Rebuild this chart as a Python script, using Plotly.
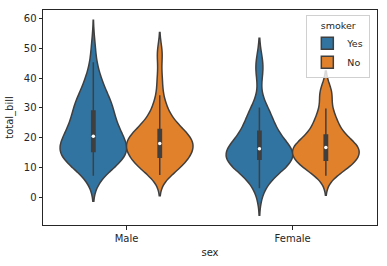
import numpy as np
import plotly.graph_objects as go

categories = ["Male", "Female"]
hues = ["Yes", "No"]

male_yes = [38.01, 11.24, 20.29, 13.81, 11.02, 18.29, 15.01, 17.92, 19.44, 32.68, 28.97, 40.17,
            27.28, 12.03, 21.01, 15.36, 20.49, 25.21, 16.00, 20.76, 31.71, 50.81, 15.81, 7.25,
            31.85, 16.82, 32.90, 17.89, 14.48, 34.63, 34.65, 23.33, 45.35, 23.17, 40.55, 30.46,
            23.10, 15.69, 28.44, 15.48, 16.58, 10.34, 13.51, 18.71, 20.53, 26.59, 38.73, 24.27,
            30.06, 25.89, 28.15, 11.59, 7.74, 12.16, 8.58, 13.42, 24.01, 15.69, 15.53, 12.60,
            32.83, 22.67]
male_no = [10.34, 21.01, 23.68, 25.29, 8.77, 26.88, 15.04, 14.78, 10.27, 15.42, 18.43, 21.58,
           16.29, 20.65, 17.92, 39.42, 19.82, 17.81, 13.37, 12.69, 21.70, 9.55, 18.35, 17.78,
           24.06, 16.31, 18.69, 31.27, 16.04, 17.46, 13.94, 9.68, 30.40, 18.29, 22.23, 32.40,
           28.55, 18.04, 12.54, 9.94, 25.56, 19.49, 48.27, 17.59, 20.08, 20.23, 12.02, 10.51,
           27.20, 22.76, 17.29, 16.66, 15.98, 13.03, 18.28, 24.71, 21.16, 22.49, 12.46, 18.24,
           14.00, 38.07, 23.95, 29.93, 11.69, 14.26, 15.95, 8.52, 22.82, 19.08, 34.30, 41.19,
           9.78, 7.51, 14.07, 13.13, 17.26, 24.55, 19.77, 48.17, 16.49, 21.50, 12.66, 13.81,
           24.52, 20.69, 7.56, 48.33, 20.45, 13.28, 11.61, 10.77, 10.07, 29.03, 17.82]
female_yes = [3.07, 26.86, 25.28, 5.75, 16.32, 11.35, 15.38, 44.30, 22.42, 14.31, 17.51, 10.59,
              10.63, 9.60, 20.90, 18.15, 19.81, 43.11, 13.00, 12.74, 13.00, 16.40, 16.47, 12.76,
              13.27, 28.17, 12.90, 30.14, 13.42, 16.27, 10.09, 22.12, 27.18]
female_no = [16.99, 24.59, 35.26, 14.83, 10.33, 16.97, 20.29, 15.77, 19.65, 15.06, 20.69, 16.93,
             10.29, 34.81, 26.41, 16.45, 17.07, 14.73, 10.07, 34.83, 22.75, 20.92, 7.25, 25.71,
             17.31, 10.65, 12.43, 24.08, 13.42, 12.48, 29.80, 14.52, 11.38, 20.27, 11.17, 12.26,
             18.26, 8.51, 10.33, 14.15, 13.16, 17.47, 27.05, 16.43, 8.35, 18.64, 11.87, 29.85,
             25.00, 13.39, 16.21, 15.98, 35.83, 18.78]

groups = {("Male", "Yes"): male_yes, ("Male", "No"): male_no,
          ("Female", "Yes"): female_yes, ("Female", "No"): female_no}

colors = {"Yes": "#3274a1", "No": "#e1812c"}
edge = "#3f3f3f"
offsets = {"Yes": -0.2, "No": 0.2}

fig = go.Figure()
med_x, med_y = [], []
for ci, cat in enumerate(categories):
    for h in hues:
        vals = np.asarray(groups[(cat, h)], dtype=float)
        bw = float(np.std(vals, ddof=1) * len(vals) ** (-0.2))
        pos = ci + offsets[h]
        fig.add_trace(go.Violin(
            x=[pos] * len(vals), y=vals, name=h, legendgroup=h,
            showlegend=(ci == 0), width=0.4, bandwidth=bw, spanmode="soft",
            scalegroup="all", scalemode="width", points=False,
            fillcolor=colors[h], line=dict(color=edge, width=1.5),
            box=dict(visible=True, width=0.05, fillcolor=edge,
                     line=dict(color=edge, width=1.5)),
            meanline=dict(visible=False), hoverinfo="skip", opacity=1,
        ))
        med_x.append(pos)
        med_y.append(float(np.median(vals)))

fig.add_trace(go.Scatter(x=med_x, y=med_y, mode="markers", showlegend=False,
                         marker=dict(color="white", size=3.5, line=dict(width=0)),
                         hoverinfo="skip"))

axis_common = dict(showline=True, linecolor="#262626", linewidth=1, mirror=True,
                   ticks="outside", ticklen=3.5, tickcolor="#262626", tickwidth=1,
                   showgrid=False, zeroline=False,
                   tickfont=dict(family="DejaVu Sans", size=10, color="#262626"))

fig.update_layout(
    width=387, height=266,
    margin=dict(l=42, r=9, t=10, b=38),
    paper_bgcolor="white", plot_bgcolor="white",
    violinmode="overlay",
    font=dict(family="DejaVu Sans", size=10, color="#262626"),
    xaxis=dict(range=[-0.503, 1.508], tickvals=[0, 1], ticktext=categories,
               title=dict(text="sex", standoff=6, font=dict(size=10)), **axis_common),
    yaxis=dict(range=[-9.3, 62.9], tickvals=[0, 10, 20, 30, 40, 50, 60],
               title=dict(text="total_bill", standoff=8, font=dict(size=10)), **axis_common),
    legend=dict(x=0.98, xanchor="right", y=0.975, yanchor="top",
                bordercolor="#d0d0d0", borderwidth=1, bgcolor="rgba(255,255,255,0.8)",
                title=dict(text="smoker", side="top center", font=dict(size=9.5)),
                font=dict(size=9.5), itemwidth=30, tracegroupgap=0),
)

fig.write_html("out.html")
